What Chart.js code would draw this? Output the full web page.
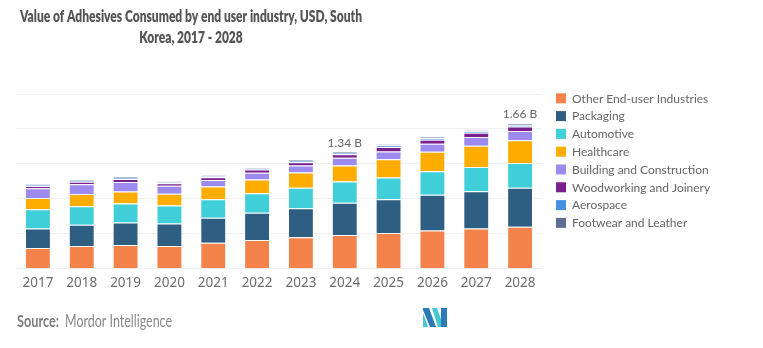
<!DOCTYPE html>
<html>
<head>
<meta charset="utf-8">
<script src="https://cdn.jsdelivr.net/npm/chart.js@4.4.1/dist/chart.umd.min.js"></script>
<style>
  html, body { margin: 0; padding: 0; background: #fff; }
  #wrap { width: 763px; height: 348px; position: relative; }
</style>
</head>
<body>
<div id="wrap"><canvas id="adhesivesChart" width="763" height="348"></canvas></div>
<script>
// Value of adhesives consumed, billion USD
const years = ['2017', '2018', '2019', '2020', '2021', '2022', '2023', '2024', '2025', '2026', '2027', '2028'];
const otherEndUser = [0.239, 0.262, 0.272, 0.260, 0.298, 0.329, 0.361, 0.387, 0.410, 0.437, 0.460, 0.480];
const packaging    = [0.223, 0.243, 0.258, 0.258, 0.286, 0.312, 0.331, 0.368, 0.385, 0.409, 0.428, 0.447];
const automotive   = [0.220, 0.212, 0.216, 0.205, 0.212, 0.223, 0.236, 0.243, 0.251, 0.269, 0.277, 0.284];
const healthcare   = [0.127, 0.139, 0.139, 0.135, 0.147, 0.158, 0.173, 0.185, 0.208, 0.223, 0.243, 0.259];
const building     = [0.112, 0.112, 0.108, 0.092, 0.073, 0.077, 0.081, 0.089, 0.089, 0.092, 0.100, 0.108];
const woodworking  = [0.027, 0.027, 0.035, 0.030, 0.031, 0.038, 0.038, 0.038, 0.050, 0.046, 0.050, 0.050];
const aerospace    = [0.010, 0.012, 0.012, 0.010, 0.012, 0.012, 0.014, 0.016, 0.020, 0.020, 0.016, 0.020];
const footwear     = [0.010, 0.012, 0.011, 0.010, 0.011, 0.011, 0.013, 0.012, 0.012, 0.015, 0.012, 0.015];

const seriesNames = ['Other End-user Industries', 'Packaging', 'Automotive', 'Healthcare',
  'Building and Construction', 'Woodworking and Joinery', 'Aerospace', 'Footwear and Leather'];
const seriesColors = ['#F3834A', '#2E5E82', '#40CFD8', '#FFAC00', '#9C8AEF', '#7A1F8E', '#4A90E2', '#5F6F93'];
const labelledYears = ['2024', '2028'];

const titleLines = ['Value of Adhesives Consumed by end user industry, USD, South', 'Korea, 2017 - 2028'];

const allSeries = [otherEndUser, packaging, automotive, healthcare, building, woodworking, aerospace, footwear];

const datasets = allSeries.map((values, i) => ({
  label: seriesNames[i],
  data: values,
  backgroundColor: seriesColors[i],
  borderColor: 'rgba(255, 255, 255, 0.3)',
  borderWidth: 1,
  categoryPercentage: 1,
  barPercentage: 0.59
}));

// draw text squeezed horizontally to a given width
function fitText(ctx, text, x, y, width, align) {
  const w = ctx.measureText(text).width;
  const sx = width / w;
  ctx.save();
  ctx.translate(x, y);
  ctx.scale(sx, 1);
  ctx.textAlign = align;
  ctx.fillText(text, 0, 0);
  ctx.restore();
}

const decorations = {
  id: 'decorations',
  afterDatasetsDraw(chart) {
    const ctx = chart.ctx;
    const yScale = chart.scales.y;
    const xScale = chart.scales.x;

    // totals over selected bars
    ctx.save();
    ctx.font = '12px Lato';
    ctx.fillStyle = '#666';
    ctx.textAlign = 'center';
    ctx.textBaseline = 'bottom';
    years.forEach((yr, i) => {
      if (!labelledYears.includes(yr)) return;
      const total = allSeries.reduce((s, arr) => s + arr[i], 0);
      ctx.fillText(total.toFixed(2) + ' B', xScale.getPixelForValue(i), yScale.getPixelForValue(total) - 3);
    });
    ctx.restore();
  },
  afterDraw(chart) {
    const ctx = chart.ctx;
    ctx.save();

    // title, two centred lines
    ctx.font = '800 16px Lato';
    ctx.fillStyle = '#555';
    ctx.textBaseline = 'alphabetic';
    const scale = 342 / ctx.measureText(titleLines[0]).width;
    ctx.save();
    ctx.translate(191, 22);
    ctx.scale(scale, 1);
    ctx.textAlign = 'center';
    ctx.fillText(titleLines[0], 0, 0);
    ctx.fillText(titleLines[1], 0, 21);
    ctx.restore();

    // legend
    ctx.font = '12px Lato';
    ctx.textBaseline = 'middle';
    ctx.textAlign = 'left';
    chart.data.datasets.forEach((ds, i) => {
      const cy = 98.3 + i * 17.8;
      ctx.fillStyle = ds.backgroundColor;
      ctx.fillRect(556, cy - 5, 10, 10);
      ctx.fillStyle = '#666';
      ctx.fillText(ds.label, 572, cy + 0.5);
    });

    // source line
    ctx.textBaseline = 'middle';
    ctx.fillStyle = '#7d7d7d';
    ctx.font = 'bold 17px Lato';
    fitText(ctx, 'Source:', 17, 322, 42, 'left');
    ctx.fillStyle = '#8a8a8a';
    ctx.font = '17px Lato';
    fitText(ctx, 'Mordor Intelligence', 65, 322, 107, 'left');

    // logo
    const blue = '#2B7BB8', teal = '#45C7CF';
    const poly = (pts, c) => {
      ctx.beginPath();
      ctx.moveTo(pts[0][0], pts[0][1]);
      pts.slice(1).forEach(p => ctx.lineTo(p[0], p[1]));
      ctx.closePath();
      ctx.fillStyle = c;
      ctx.fill();
    };
    poly([[423, 313], [428, 327], [423, 327]], teal);
    poly([[423, 308], [429, 308], [436, 327], [430, 327], [423, 310]], blue);
    poly([[432, 308], [437, 308], [441, 319], [441, 327], [438, 327]], teal);
    poly([[441, 308], [447, 308], [447, 327], [441, 327]], blue);

    ctx.restore();
  }
};

new Chart(document.getElementById('adhesivesChart'), {
  type: 'bar',
  data: { labels: years, datasets },
  options: {
    responsive: false,
    animation: false,
    layout: { padding: { left: 16, right: 221, top: 94, bottom: 50 } },
    plugins: {
      legend: { display: false },
      title: { display: false },
      tooltip: { enabled: false }
    },
    scales: {
      x: {
        stacked: true,
        grid: { display: false, drawTicks: false },
        border: { display: false },
        ticks: { color: '#6e6e6e', font: { family: 'Noto Sans', size: 13.5 }, padding: 6.5, maxRotation: 0 }
      },
      y: {
        stacked: true,
        min: 0,
        max: 2.0,
        ticks: { display: false, stepSize: 0.4 },
        grid: { color: '#efefef', drawTicks: false },
        border: { display: false }
      }
    }
  },
  plugins: [decorations]
});
</script>
</body>
</html>
